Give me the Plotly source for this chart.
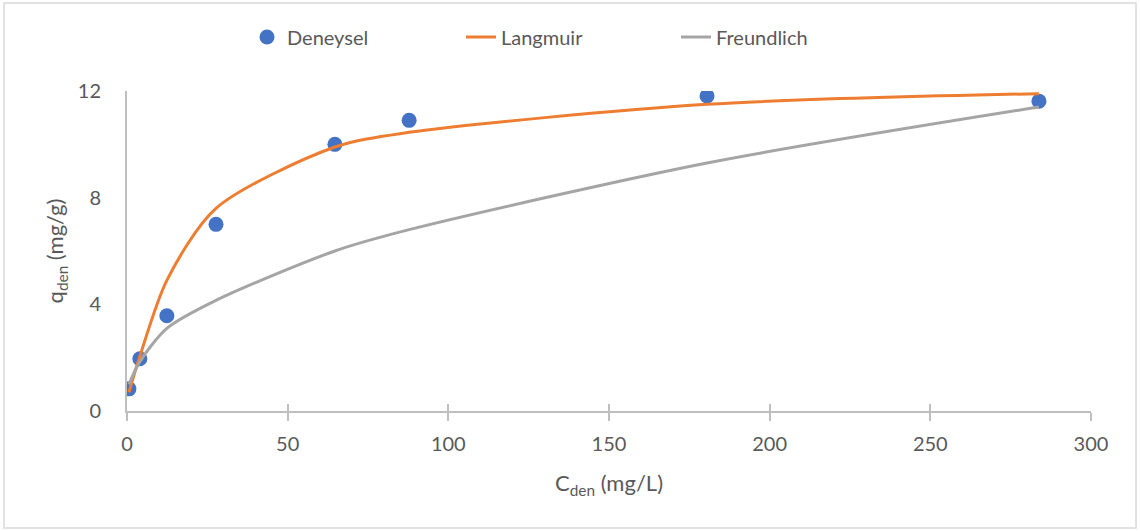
import plotly.graph_objects as go

# Data
c_den = [0.6, 4.0, 12.4, 27.7, 64.7, 87.8, 180.5, 283.8]
q_exp = [0.83, 1.96, 3.57, 7.0, 10.0, 10.9, 11.81, 11.62]
q_langmuir = [0.7, 2.05, 4.9, 7.6, 9.9, 10.45, 11.5, 11.9]
q_freundlich = [1.0, 1.85, 3.1, 4.15, 6.0, 6.8, 9.3, 11.4]
x_ticks = [0, 50, 100, 150, 200, 250, 300]
y_ticks = [0, 4, 8, 12]

W, H = 1140, 531
L, R, T, B = 127, 49, 91, 120
pw, ph = W - L - R, H - T - B

FONT = "Lato"
TXT = "#595959"
AX = "#bfbfbf"


def px_x(p):
    return (p - L) / pw


def px_y(p):
    return (H - B - p) / ph


fig = go.Figure()
fig.add_trace(go.Scatter(x=c_den, y=q_exp, mode="markers", name="Deneysel",
                         marker=dict(color="#4472C4", size=15), legend="legend"))
fig.add_trace(go.Scatter(x=c_den, y=q_langmuir, mode="lines", name="Langmuir",
                         line=dict(color="#ED7D31", width=3, shape="spline", smoothing=0.8),
                         legend="legend2"))
fig.add_trace(go.Scatter(x=c_den, y=q_freundlich, mode="lines", name="Freundlich",
                         line=dict(color="#A5A5A5", width=3, shape="spline", smoothing=0.8),
                         legend="legend3"))
# invisible trace to carry the inner half of the crossing tick marks
fig.add_trace(go.Scatter(x=[0], y=[0], xaxis="x2", mode="markers",
                         marker=dict(opacity=0), showlegend=False, hoverinfo="skip"))

leg_common = dict(orientation="h", yanchor="middle", y=px_y(37), xanchor="left",
                  font=dict(size=20, color=TXT), bgcolor="rgba(0,0,0,0)")

fig.update_layout(
    width=W, height=H,
    margin=dict(l=L, r=R, t=T, b=B),
    paper_bgcolor="white", plot_bgcolor="white",
    font=dict(family=FONT, color=TXT, size=20),
    showlegend=True,
    legend=dict(x=px_x(295 - 42 - 6), **leg_common),
    legend2=dict(x=px_x(503 - 42), **leg_common),
    legend3=dict(x=px_x(718 - 42), **leg_common),
    xaxis=dict(range=[0, 300], tickvals=x_ticks,
               showgrid=False, zeroline=False, showline=True, linecolor=AX, linewidth=2,
               ticks="outside", ticklen=8, tickcolor=AX, tickwidth=2,
               ticklabelstandoff=6,
               tickfont=dict(size=20, color=TXT),
               title=dict(text="C<sub>den</sub> (mg/L)", font=dict(size=22, color=TXT), standoff=22)),
    xaxis2=dict(range=[0, 300], tickvals=x_ticks, overlaying="x", side="bottom",
                showgrid=False, zeroline=False, showline=False, showticklabels=False,
                ticks="inside", ticklen=7, tickcolor=AX, tickwidth=2),
    yaxis=dict(range=[0, 12], tickvals=y_ticks,
               showgrid=False, zeroline=False, showline=True, linecolor=AX, linewidth=2,
               ticks="", ticklabelstandoff=20, tickfont=dict(size=20, color=TXT),
               title=dict(text="q<sub>den</sub> (mg/g)", font=dict(size=22, color=TXT), standoff=8)),
)

fig.add_shape(type="rect", xref="paper", yref="paper",
              x0=px_x(4), x1=px_x(1136), y0=px_y(528), y1=px_y(3),
              line=dict(color="#d9d9d9", width=1.5), fillcolor="rgba(0,0,0,0)", layer="below")

fig.write_html("out.html")
